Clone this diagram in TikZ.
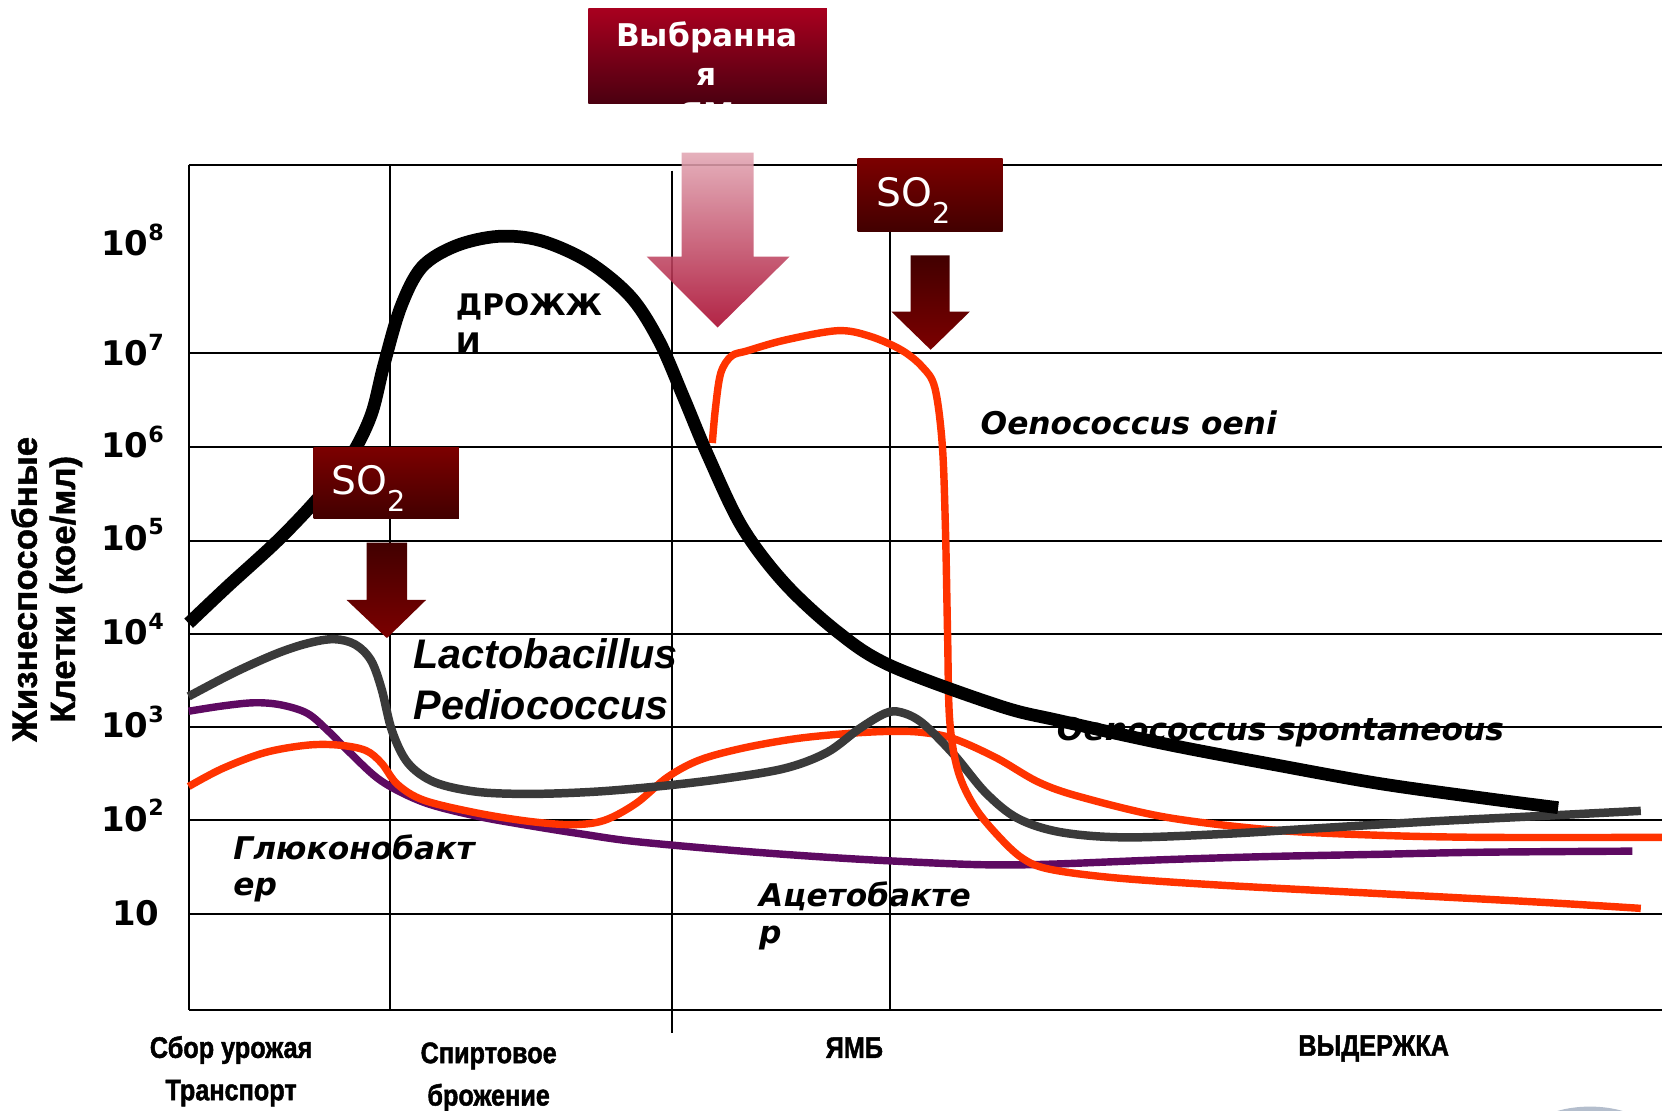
\documentclass[tikz,border=0pt]{standalone}
\usepackage{fontspec}
\newfontfamily\dv{DejaVu Sans}
\newfontfamily\lib{Liberation Sans}[BoldFeatures={FakeBold=1.2}]
\newfontfamily\nar{Liberation Sans}[FakeStretch=0.85,BoldFeatures={FakeBold=1.5}]
\definecolor{redline}{HTML}{FF3300}
\definecolor{grayline}{HTML}{3A3A3A}
\definecolor{purp}{HTML}{5E0A62}
\definecolor{boxtop}{HTML}{7C0000}
\definecolor{boxbot}{HTML}{420000}
\definecolor{ymtop}{HTML}{A8001F}
\definecolor{ymbot}{HTML}{4A0010}
\definecolor{pinktop}{HTML}{E2A6B3}
\definecolor{pinkbot}{HTML}{A8062C}
\newcommand{\fsz}[2]{\fontsize{#1}{#2}\selectfont}
\newcommand{\ex}[1]{\raisebox{0.45em}{\fsz{21}{21}#1}}
\newcommand{\subtwo}{\raisebox{-0.42em}{\fsz{27}{27}2}}
\begin{document}
\begin{tikzpicture}[x=1pt,y=-1pt,
  gridline/.style={line width=2pt,black},
  ticklab/.style={font=\dv\bfseries\fsz{32}{32},anchor=base,inner sep=0pt},
  curvelab/.style={font=\dv\bfseries\itshape\fsz{29.5}{29.5},anchor=base west,inner sep=0pt},
  uplab/.style={font=\dv\bfseries\fsz{28}{28},anchor=base west,inner sep=0pt},
  xlab/.style={font=\nar\bfseries\fsz{28}{28},anchor=base,inner sep=0pt},
  sotext/.style={font=\dv\fsz{37}{37},text=white,anchor=base west,inner sep=0pt},
  ymtext/.style={font=\dv\bfseries\fsz{29.5}{29.5},text=white,anchor=base,inner sep=0pt},
  curve/.style={smooth,tension=0.55,line join=round}]
\useasboundingbox (0,0) rectangle (1568,1048);
\fill[white] (0,0) rectangle (1568,1048);

% labels under grid
\node[curvelab] (ospont) at (997,699) {Oenococcus spontaneous};
\node[curvelab] (ooeni) at (925,410) {Oenococcus oeni};
\node[uplab] (yeast1) at (430,298) {ДРОЖЖ};
\node[uplab] (yeast2) at (430,334) {И};
\node[font=\lib\bfseries\itshape\fsz{39}{39},anchor=base west,inner sep=0pt] (lacto) at (390,631) {Lactobacillus};
\node[font=\lib\bfseries\itshape\fsz{39}{39},anchor=base west,inner sep=0pt] (pedio) at (390,679) {Pediococcus};
\node[curvelab] (gluco1) at (220,811) {Глюконобакт};
\node[curvelab] (gluco2) at (220,845) {ер};
\node[curvelab] (aceto1) at (716,855) {Ацетобакте};
\node[curvelab] (aceto2) at (716,890) {р};

% grid
\draw[gridline] (178,156) -- (1568,156);
\draw[gridline] (178,953) -- (1568,953);
\draw[gridline] (178,156) -- (178,953);
\foreach \yy in {333,422,510,598,686,774,862}
  \draw[gridline] (178,\yy) -- (1568,\yy);
\draw[gridline] (368,156) -- (368,953);
\draw[gridline] (634,161) -- (634,975);
\draw[gridline] (840,156) -- (840,953);

% tick labels
\node[ticklab] (t8) at (125,241) {10\ex{8}};
\node[ticklab] (t7) at (125,345) {10\ex{7}};
\node[ticklab] (t6) at (125,432) {10\ex{6}};
\node[ticklab] (t5) at (125,519) {10\ex{5}};
\node[ticklab] (t4) at (125,608) {10\ex{4}};
\node[ticklab] (t3) at (125,696) {10\ex{3}};
\node[ticklab] (t2) at (125,784) {10\ex{2}};
\node[ticklab] (t1) at (128,873) {10};

% axis title
\node[font=\lib\bfseries\fsz{33}{36},rotate=90,align=center,inner sep=0pt] (ytitle) at (44,556) {Жизнеспособные\\Клетки (кое/мл)};

% x labels
\node[xlab] (xa1) at (218,998) {Сбор урожая};
\node[xlab] (xa2) at (218,1038) {Транспорт};
\node[xlab] (xb1) at (461,1003) {Спиртовое};
\node[xlab] (xb2) at (461,1043) {брожение};
\node[xlab] (xc) at (806,998) {ЯМБ};
\node[xlab] (xd) at (1296,996) {ВЫДЕРЖКА};

% curves
\draw[purp,line width=7pt] plot[curve] coordinates {(178,671) (210,666) (240,663) (265,665) (290,673) (310,690) (330,710) (360,737) (400,757) (450,770) (500,779) (550,787) (600,794) (700,803) (800,810) (900,815) (950,816) (1000,815) (1100,811) (1200,808) (1300,806) (1400,804) (1540,803)};
\draw[redline,line width=7pt] plot[curve] coordinates {(178,742) (210,725) (250,710) (290,703) (320,703) (345,708) (360,720) (375,740) (400,755) (450,767) (500,775) (540,778) (570,774) (600,758) (630,733) (660,717) (700,706) (750,697) (800,692) (840,690) (870,691) (900,697) (940,715) (980,738) (1020,752) (1100,771) (1200,783) (1300,788) (1400,790) (1568,790)};
\draw[grayline,line width=8pt] plot[curve] coordinates {(178,657) (220,635) (260,617) (290,607) (315,603) (335,608) (350,623) (360,650) (370,690) (385,720) (410,738) (450,747) (500,749) (560,747) (620,742) (680,735) (740,725) (780,710) (810,688) (835,673) (850,672) (870,682) (900,712) (930,748) (960,772) (1000,785) (1060,790) (1150,787) (1250,781) (1350,775) (1450,770) (1548,765)};
\draw[redline,line width=7pt] plot[curve] coordinates {(672,418) (675,385) (680,352) (690,336) (705,331) (740,321) (790,312) (820,317) (850,330) (870,346) (882,366) (889,420) (892,500) (894,600) (896,680) (904,728) (920,762) (943,790) (965,810) (990,820) (1050,828) (1150,835) (1300,843) (1450,851) (1548,857)};
\draw[black,line width=12pt] plot[curve] coordinates {(178,588) (215,553) (262,510) (300,470) (330,432) (350,392) (362,345) (378,290) (398,252) (430,232) (470,223) (510,227) (555,247) (595,280) (622,322) (645,375) (668,430) (700,497) (740,550) (790,596) (840,628) (943,666) (1000,680) (1100,702) (1200,721) (1300,739) (1400,753) (1470,762)};

% boxes
\shade[top color=ymtop,bottom color=ymbot] (555,8) rectangle (780,98);
\begin{scope}
  \clip (555,8) rectangle (780,98);
  \node[ymtext] (ym1) at (667,44) {Выбранна};
  \node[ymtext] (ym2) at (667,81) {я};
  \node[ymtext] (ym3) at (667,118) {ЯМ};
\end{scope}
\shade[top color=boxtop,bottom color=boxbot] (809,150) rectangle (946,218);
\node[sotext] (so2r) at (827,195) {SO\subtwo};
\shade[top color=boxtop,bottom color=boxbot] (296,422) rectangle (433,489);
\node[sotext] (so2l) at (313,467) {SO\subtwo};

% arrows
\shade[top color=boxbot,bottom color=boxtop] (346,512) -- (384,512) -- (384,566) -- (402,566) -- (365,602) -- (327,566) -- (346,566) -- cycle;
\shade[top color=boxbot,bottom color=boxtop] (859,241) -- (896,241) -- (896,294) -- (915,294) -- (878,330) -- (841,294) -- (859,294) -- cycle;
\shade[top color=pinktop,bottom color=pinkbot,opacity=0.88] (643,144) -- (711,144) -- (711,242) -- (745,242) -- (677,309) -- (610,242) -- (643,242) -- cycle;

% faint logo arc at the corner
\begin{scope}
  \clip (0,0) rectangle (1568,1048);
  \draw[line width=4pt,color={rgb,255:red,180;green,190;blue,205}] (1500,1078) ellipse (62 and 32);
\end{scope}
\end{tikzpicture}
\end{document}
